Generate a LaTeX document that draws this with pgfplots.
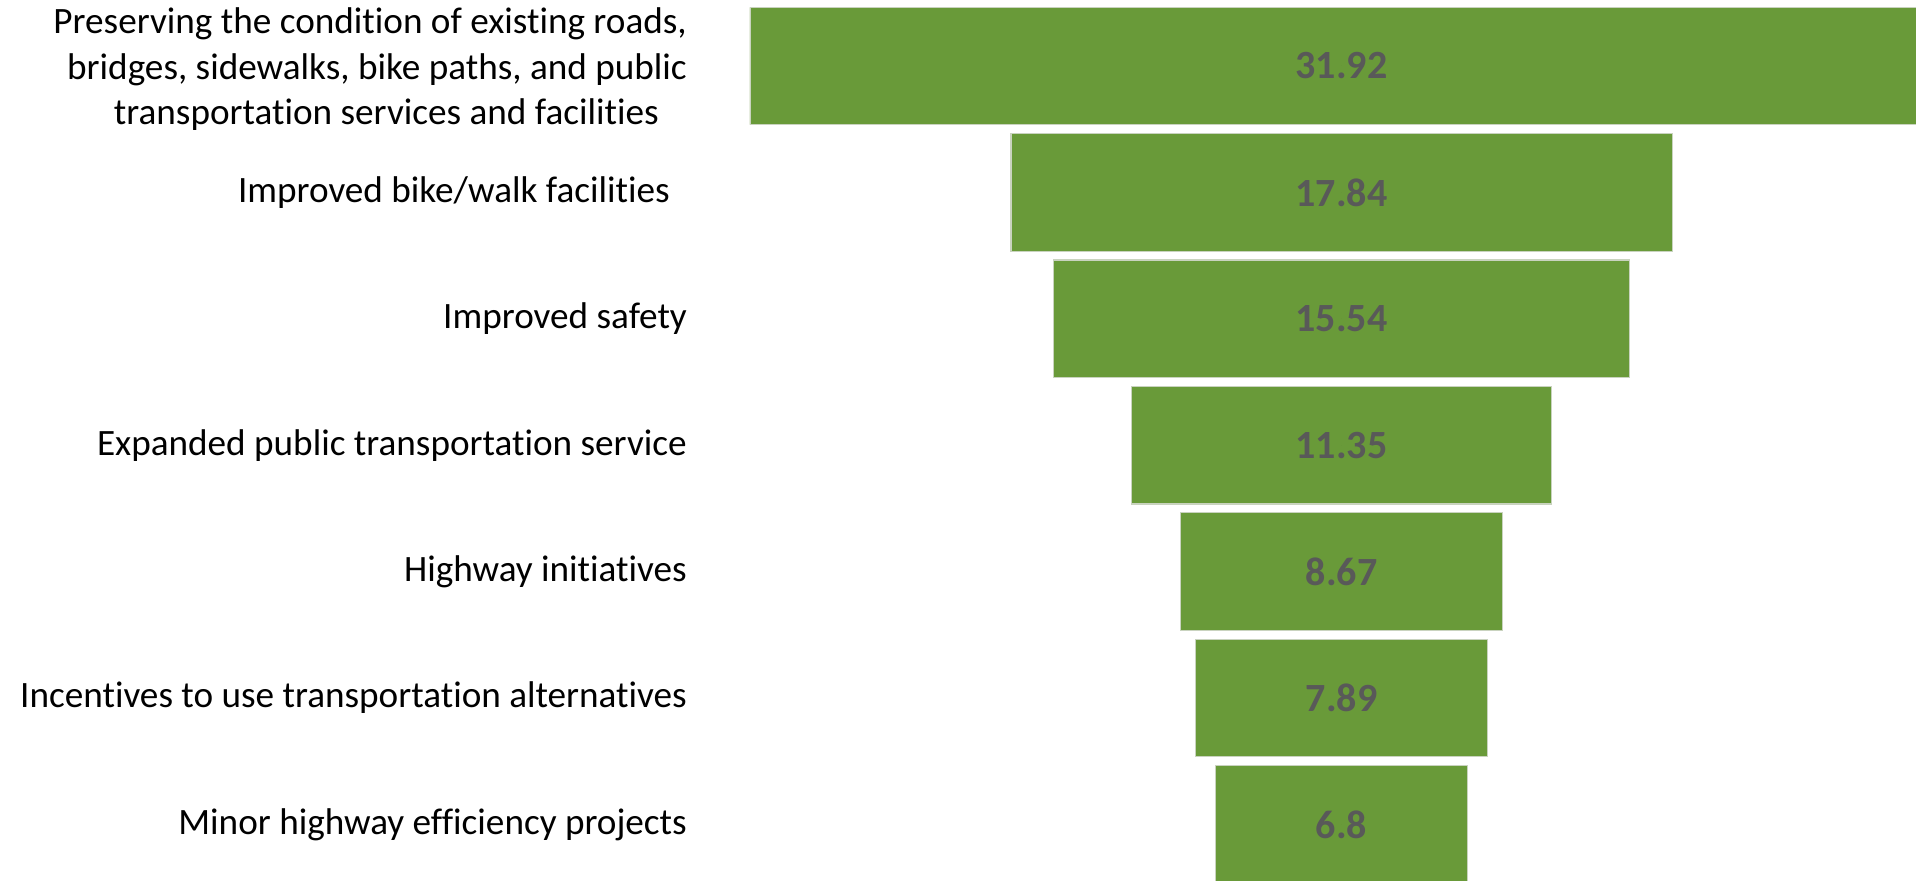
\documentclass[border=0pt]{standalone}
\usepackage{fontspec}
\setmainfont[Ligatures=NoCommon]{Carlito}
\usepackage{pgfplots}
\usepackage{pgfplotstable}
\pgfplotsset{compat=1.18}
\definecolor{bargreen}{HTML}{699A39}
\definecolor{barline}{HTML}{C9D3BF}
\definecolor{valgrey}{HTML}{595959}
\pgfplotstableread{
y v lab
0 31.92 31.92
1 17.84 17.84
2 15.54 15.54
3 11.35 11.35
4 8.67 8.67
5 7.89 7.89
6 6.8 6.8
}\funneldata
\begin{document}
\begin{tikzpicture}
\useasboundingbox (-375pt,0pt) rectangle (583pt,440pt);
\pgfplotsset{funnelaxis/.style={
  at={(0pt,0pt)}, anchor=south west,
  scale only axis, width=583pt, height=440pt,
  xmin=0, xmax=31.46, ymin=-0.522, ymax=6.44,
  y dir=reverse,
}}
\begin{axis}[funnelaxis,
  xbar stacked, bar width=0.929,
  axis line style={draw=none}, tick style={draw=none},
  xtick=\empty,
  ytick={0,1,2,3,4,5,6},
  yticklabels={{\raisebox{-2pt}[\height][\depth]{\fontsize{18.6}{22.6}\selectfont\begin{tabular}{@{}r@{}}Preserving the condition of existing roads,\\bridges, sidewalks, bike paths, and public\\transportation services and facilities\kern14pt\end{tabular}}},
    {Improved bike/walk facilities\kern8.5pt},
    {Improved safety},
    {Expanded public transportation service},
    {Highway initiatives},
    {Incentives to use transportation alternatives},
    {Minor highway efficiency projects}},
  yticklabel style={anchor=east, inner sep=0pt, xshift=-31.4pt, text=black,
    font=\fontsize{18.6}{22.6}\selectfont},
]
\addplot[draw=none, fill=none] table[x expr=(31.92-\thisrow{v})/2, y=y] {\funneldata};
\addplot[fill=bargreen, draw=barline, line width=0.6pt] table[x=v, y=y] {\funneldata};
\end{axis}
\begin{axis}[funnelaxis, hide axis]
\addplot[draw=none, mark=*, mark size=0pt, mark options={draw=none, fill=none},
  nodes near coords, point meta=explicit symbolic,
  nodes near coords style={anchor=center, text=valgrey,
    font=\fontsize{20}{24}\selectfont\bfseries}]
  table[x expr=15.96, y=y, meta=lab] {\funneldata};
\end{axis}
\end{tikzpicture}
\end{document}
